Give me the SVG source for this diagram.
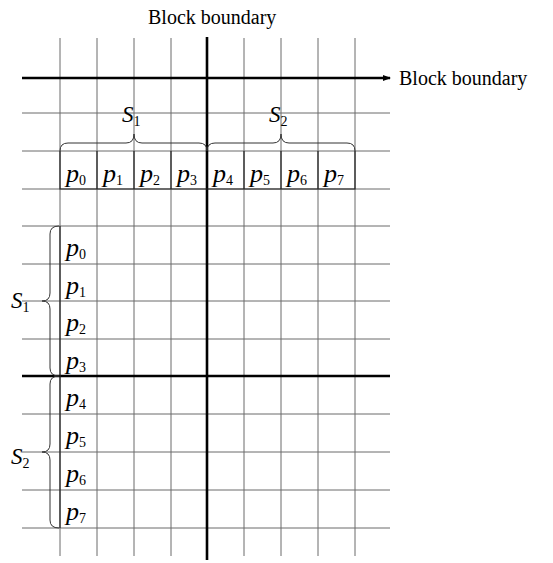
<svg xmlns="http://www.w3.org/2000/svg" width="553" height="563" viewBox="0 0 553 563">
<style>
.g{stroke:#6a6a6a;stroke-width:1;fill:none}
.b{stroke:#222;stroke-width:1.2;fill:none}
.thick{stroke:#000;stroke-width:2.6;fill:none}
.br{stroke:#333;stroke-width:1;fill:none}
.t{font-family:"Liberation Serif","Times New Roman",serif;font-size:20px;fill:#000}
.p{font-family:"Liberation Serif","Times New Roman",serif;font-size:26px;font-style:italic;fill:#000}
.s{font-family:"Liberation Serif","Times New Roman",serif;font-size:23px;font-style:italic;fill:#000}
.sub{font-style:normal;font-size:14px}
</style>
<defs>
<marker id="arr" markerWidth="8" markerHeight="6" refX="7" refY="3" orient="auto" markerUnits="userSpaceOnUse">
<path d="M0,0 L8,3 L0,6 Z" fill="#000"/>
</marker>
</defs>
<rect width="553" height="563" fill="#fff"/>
<g id="grid">
<path class="g" d="M60,38V556M97,38V556M134,38V556M171,38V556M244,38V556M281,38V556M318,38V556M355,38V556"/>
<path class="g" d="M22,113H390M22,151H390M22,189H390M22,226H390M22,264H390M22,301H390M22,339H390M22,414H390M22,452H390M22,490H390M22,528H390"/>
</g>
<g id="connectors">
<path class="thick" d="M22,78H390" marker-end="url(#arr)"/>
<path class="thick" d="M207,37V560"/>
<path class="thick" d="M22,376H390"/>
</g>
<g id="label-top">
<text class="t" x="148" y="24">Block boundary</text>
</g>
<g id="label-right">
<text class="t" x="399" y="85">Block boundary</text>
</g>
<g id="top-cells">
<path class="b" d="M60,151V189H355V151M97,151V189M134,151V189M171,151V189M244,151V189M281,151V189M318,151V189"/>
<text class="p" x="66" y="182">p<tspan class="sub" dy="3">0</tspan></text>
<text class="p" x="103" y="182">p<tspan class="sub" dy="3">1</tspan></text>
<text class="p" x="140" y="182">p<tspan class="sub" dy="3">2</tspan></text>
<text class="p" x="177" y="182">p<tspan class="sub" dy="3">3</tspan></text>
<text class="p" x="213" y="182">p<tspan class="sub" dy="3">4</tspan></text>
<text class="p" x="250" y="182">p<tspan class="sub" dy="3">5</tspan></text>
<text class="p" x="287" y="182">p<tspan class="sub" dy="3">6</tspan></text>
<text class="p" x="324" y="182">p<tspan class="sub" dy="3">7</tspan></text>
</g>
<g id="left-cells">
<path class="b" d="M60,226V528"/>
<text class="p" x="66" y="256">p<tspan class="sub" dy="3">0</tspan></text>
<text class="p" x="66" y="294">p<tspan class="sub" dy="3">1</tspan></text>
<text class="p" x="66" y="331">p<tspan class="sub" dy="3">2</tspan></text>
<text class="p" x="66" y="369">p<tspan class="sub" dy="3">3</tspan></text>
<text class="p" x="66" y="406">p<tspan class="sub" dy="3">4</tspan></text>
<text class="p" x="66" y="444">p<tspan class="sub" dy="3">5</tspan></text>
<text class="p" x="66" y="482">p<tspan class="sub" dy="3">6</tspan></text>
<text class="p" x="66" y="520">p<tspan class="sub" dy="3">7</tspan></text>
</g>
<g id="brace-top-S1">
<path class="br" d="M60,151Q60,143 68,143H126Q134,143 134,134Q134,143 142,143H199Q207,143 207,151"/>
<text class="s" x="122" y="122">S<tspan class="sub" dy="4">1</tspan></text>
</g>
<g id="brace-top-S2">
<path class="br" d="M207,151Q207,143 215,143H273Q281,143 281,134Q281,143 289,143H347Q355,143 355,151"/>
<text class="s" x="269" y="122">S<tspan class="sub" dy="4">2</tspan></text>
</g>
<g id="brace-left-S1">
<path class="br" d="M59,226Q50,226 50,234V293Q50,301 42,301Q50,301 50,309V368Q50,376 59,376"/>
<text class="s" x="11" y="308">S<tspan class="sub" dy="4">1</tspan></text>
</g>
<g id="brace-left-S2">
<path class="br" d="M59,376Q50,376 50,384V444Q50,452 42,452Q50,452 50,460V520Q50,528 59,528"/>
<text class="s" x="11" y="464">S<tspan class="sub" dy="4">2</tspan></text>
</g>
</svg>
